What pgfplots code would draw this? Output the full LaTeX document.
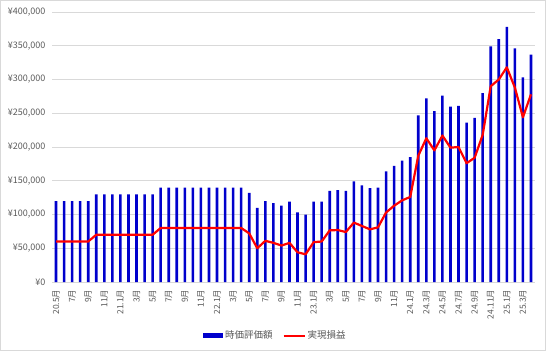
\documentclass[border=0pt]{standalone}
\usepackage{pgfplots}
\usepackage{pgfplotstable}
\pgfplotsset{compat=1.18}
\usepackage{fontspec}
\setmainfont{Noto Sans CJK JP}
\definecolor{barblue}{RGB}{0,0,204}
\definecolor{txtgray}{RGB}{89,89,89}
\definecolor{gridgray}{RGB}{217,217,217}
\pgfplotstableread{
x val pnl
0 120 60
1 120 60
2 120 60
3 120 60
4 120 60
5 130 70
6 130 70
7 130 70
8 130 70
9 130 70
10 130 70
11 130 70
12 130 70
13 140 80
14 140 80
15 140 80
16 140 80
17 140 80
18 140 80
19 140 80
20 140 80
21 140 80
22 140 80
23 140 80
24 132 72
25 110 50
26 120 61
27 117 58
28 113 54
29 119 58
30 103 44
31 100 41
32 119 59
33 119 60
34 135 76.5
35 136 77
36 135 74
37 149 88
38 143 83
39 139 78
40 140 81
41 164 103
42 172 113
43 180 121
44 185 126
45 247 187
46 272 213
47 253 195
48 276 217
49 260 199
50 261 200
51 236 176
52 243 184
53 280 218
54 349 290
55 360 300
56 378 318
57 346 288
58 303 244
59 337 278
}\datatable
\begin{document}
\begin{tikzpicture}
\useasboundingbox (0,0) rectangle (546pt,351pt);
\draw[gridgray] (0.5pt,0.5pt) rectangle (545.5pt,350.5pt);
\begin{axis}[
  at={(52pt,69pt)}, anchor=south west,
  scale only axis, width=483pt, height=270pt,
  xmin=-0.5, xmax=59.5, ymin=0, ymax=400,
  axis line style={draw=none},
  axis x line*=bottom,
  x axis line style={draw=gridgray},
  ymajorgrids, grid style={gridgray, line width=0.8pt},
  major tick length=0pt,
  ytick={0,50,...,400},
  yticklabels={¥0,{¥50,000},{¥100,000},{¥150,000},{¥200,000},{¥250,000},{¥300,000},{¥350,000},{¥400,000}},
  yticklabel style={font=\fontsize{9}{10}\selectfont, text=txtgray, xshift=-3pt},
  xtick={0,2,...,58},
  xticklabels={20.5月,7月,9月,11月,21.1月,3月,5月,7月,9月,11月,22.1月,3月,5月,7月,9月,11月,23.1月,3月,5月,7月,9月,11月,24.1月,24.3月,24.5月,24.7月,24.9月,24.11月,25.1月,25.3月},
  xticklabel shift=4pt,
  xticklabel style={rotate=90, anchor=east, font=\fontsize{8.5}{9}\selectfont, text=txtgray},
  legend style={at={(0.4627,-0.199)}, anchor=center, draw=none, fill=none,
    legend columns=2, font=\fontsize{9.5}{10}\selectfont, text=txtgray,
    /tikz/every even column/.append style={column sep=8pt}},
]
\addplot[ybar, bar width=2.6pt, fill=barblue, draw=none,
  legend image code/.code={\fill[barblue] (0pt,-2.5pt) rectangle (20pt,2.5pt);}]
  table[x=x, y=val] {\datatable};
\addlegendentry{時価評価額}
\addplot[red, line width=2.2pt, line join=round, mark=none,
  legend image code/.code={\draw[red, line width=2pt] (0pt,0pt) -- (21pt,0pt);}]
  table[x=x, y=pnl] {\datatable};
\addlegendentry{実現損益}
\end{axis}
\end{tikzpicture}
\end{document}
